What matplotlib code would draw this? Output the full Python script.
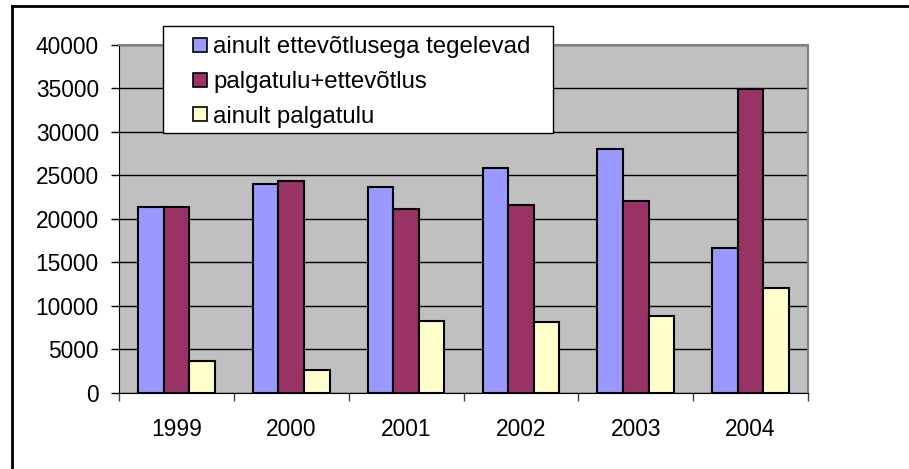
import matplotlib.pyplot as plt
import numpy as np
from matplotlib.lines import Line2D
from matplotlib.patches import Rectangle

years = ['1999', '2000', '2001', '2002', '2003', '2004']
labels = ['ainult ettevõtlusega tegelevad', 'palgatulu+ettevõtlus', 'ainult palgatulu']
ettevotlus = [21400, 24000, 23700, 25900, 28000, 16600]
palk_ettevotlus = [21400, 24400, 21100, 21600, 22000, 34900]
palk = [3700, 2600, 8200, 8100, 8800, 12100]
colors = ['#9999FF', '#993366', '#FFFFCC']

plt.rcParams['font.family'] = ['Liberation Sans', 'DejaVu Sans']

W, H = 909, 469
fig = plt.figure(figsize=(W / 100, H / 100), dpi=100)
ax = fig.add_axes([119 / W, 1 - 392.7 / H, 689 / W, 347.7 / H])
ax.set_facecolor('#C0C0C0')

x = np.arange(len(years))
w = 1 / 4.5
series = [ettevotlus, palk_ettevotlus, palk]
for i, vals in enumerate(series):
    ax.bar(x + (i - 1) * w, vals, w, color=colors[i], edgecolor='black',
           linewidth=1.5, zorder=3)

ax.set_xlim(-0.5, len(years) - 0.5)
ax.set_ylim(0, 40000)
ax.set_yticks(range(0, 40001, 5000))
ax.yaxis.grid(True, color='black', linewidth=1, zorder=1)
ax.tick_params(axis='y', labelsize=16.4, length=5.5, width=1, color='black', pad=9)

ax.set_xticks(np.arange(-0.5, len(years), 1))
ax.set_xticklabels([])
ax.set_xticks(x, minor=True)
ax.set_xticklabels(years, minor=True)
ax.tick_params(axis='x', which='major', length=5.5, width=1, color='#404040')
ax.tick_params(axis='x', which='minor', length=0, pad=18.5, labelsize=16.4)

for s in ['top', 'right']:
    ax.spines[s].set_color('#808080')
    ax.spines[s].set_linewidth(1.5)
ax.spines['left'].set_color('black')
ax.spines['bottom'].set_color('black')
ax.spines['bottom'].set_zorder(4)

# legend box drawn by hand in pixel coordinates
def px(xp, yp):
    return xp / W, 1 - yp / H

lx0, ly0, lx1, ly1 = 163, 26, 553, 133
fig.add_artist(Rectangle(px(lx0, ly1), (lx1 - lx0) / W, (ly1 - ly0) / H,
                         transform=fig.transFigure, facecolor='white',
                         edgecolor='black', linewidth=1, zorder=10))
row_y = [45, 79.5, 114]
for i, lab in enumerate(labels):
    fig.add_artist(Rectangle(px(193, row_y[i] + 7), 14 / W, 14 / H,
                             transform=fig.transFigure, facecolor=colors[i],
                             edgecolor='black', linewidth=1.2, zorder=11))
    tx, ty = px(213, row_y[i])
    fig.text(tx, ty, lab, fontsize=17.3, va='center_baseline', ha='left', zorder=12)

fig.add_artist(Line2D([12 / W, 12 / W], [0, 1 - 6 / H], color='black', linewidth=2,
                      transform=fig.transFigure))
fig.add_artist(Line2D([12 / W, 1], [1 - 6 / H, 1 - 6 / H], color='black', linewidth=2,
                      transform=fig.transFigure))

fig.savefig('out.png', dpi=100)
